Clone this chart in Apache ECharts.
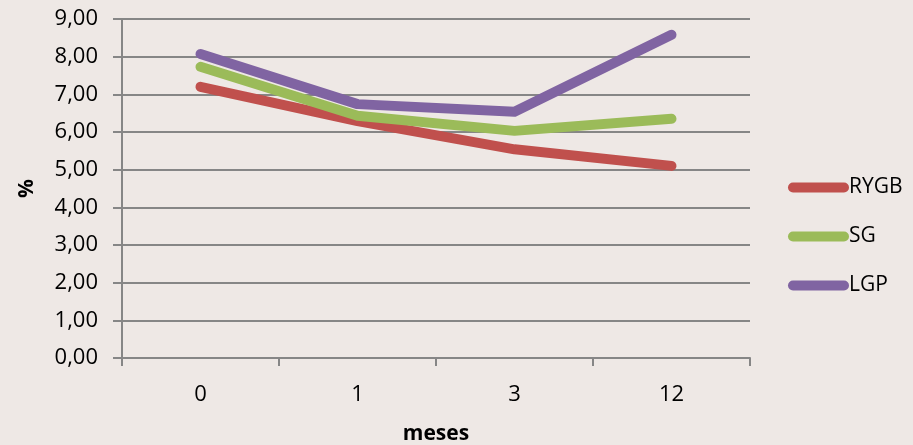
<!DOCTYPE html>
<html>
<head>
<meta charset="utf-8">
<script src="https://cdn.jsdelivr.net/npm/echarts@6/dist/echarts.min.js"></script>
<style>
html,body{margin:0;padding:0;background:#eee8e5;overflow:hidden;}
#chart{width:913px;height:445px;}
</style>
</head>
<body>
<div id="chart"></div>
<script>
// Months after surgery
var months = ['0', '1', '3', '12'];
// Percentage by procedure
var rygb = [7.20, 6.29, 5.54, 5.10];
var sg   = [7.73, 6.43, 6.03, 6.35];
var lgp  = [8.07, 6.74, 6.54, 8.58];
var seriesNames = ['RYGB', 'SG', 'LGP'];
var seriesColors = ['#c0504d', '#9bbb59', '#8064a2'];

var font = 'Open Sans, Liberation Sans, sans-serif';
var chart = echarts.init(document.getElementById('chart'), null, {renderer: 'canvas'});

// thick line with round caps, used as legend marker
var capsuleIcon = 'path://M5,0 L56,0 A5,5 0 0 1 56,10 L5,10 A5,5 0 0 1 5,0 Z';

function lineSeries(name, data, color) {
  return {
    name: name,
    type: 'line',
    data: data,
    symbol: 'none',
    smooth: false,
    lineStyle: {width: 10, color: color, cap: 'round', join: 'round'},
    itemStyle: {color: color},
    emphasis: {disabled: true}
  };
}

chart.setOption({
  backgroundColor: '#eee8e5',
  animation: false,
  grid: {left: 122, right: 163, top: 19, bottom: 87, containLabel: false, outerBoundsMode: 'none'},
  legend: {
    orient: 'vertical',
    left: 788,
    top: 177,
    padding: 0,
    itemGap: 28,
    itemWidth: 61,
    itemHeight: 10,
    icon: capsuleIcon,
    textStyle: {fontFamily: font, fontSize: 21, color: '#000', padding: [0, 0, 0, -5]},
    data: seriesNames
  },
  xAxis: {
    type: 'category',
    data: months,
    boundaryGap: true,
    name: 'meses',
    nameLocation: 'middle',
    nameGap: 66,
    nameTextStyle: {fontFamily: font, fontSize: 21, fontWeight: 'bold', color: '#000'},
    axisLine: {lineStyle: {color: '#868686', width: 2}},
    axisTick: {show: true, length: 8, lineStyle: {color: '#868686', width: 2}},
    axisLabel: {fontFamily: font, fontSize: 22, color: '#000', margin: 26}
  },
  yAxis: {
    type: 'value',
    min: 0,
    max: 9,
    interval: 1,
    name: '%',
    nameLocation: 'middle',
    nameGap: 84,
    nameRotate: 90,
    nameTextStyle: {fontFamily: font, fontSize: 21, fontWeight: 'bold', color: '#000'},
    axisLine: {show: true, lineStyle: {color: '#868686', width: 2}},
    axisTick: {show: true, length: 9, lineStyle: {color: '#868686', width: 2}},
    splitLine: {lineStyle: {color: '#868686', width: 2}},
    axisLabel: {
      fontFamily: font, fontSize: 22, color: '#000', margin: 24,
      formatter: function (v) { return v.toFixed(2).replace('.', ','); }
    }
  },
  series: [
    lineSeries(seriesNames[0], rygb, seriesColors[0]),
    lineSeries(seriesNames[1], sg, seriesColors[1]),
    lineSeries(seriesNames[2], lgp, seriesColors[2])
  ]
});
</script>
</body>
</html>
